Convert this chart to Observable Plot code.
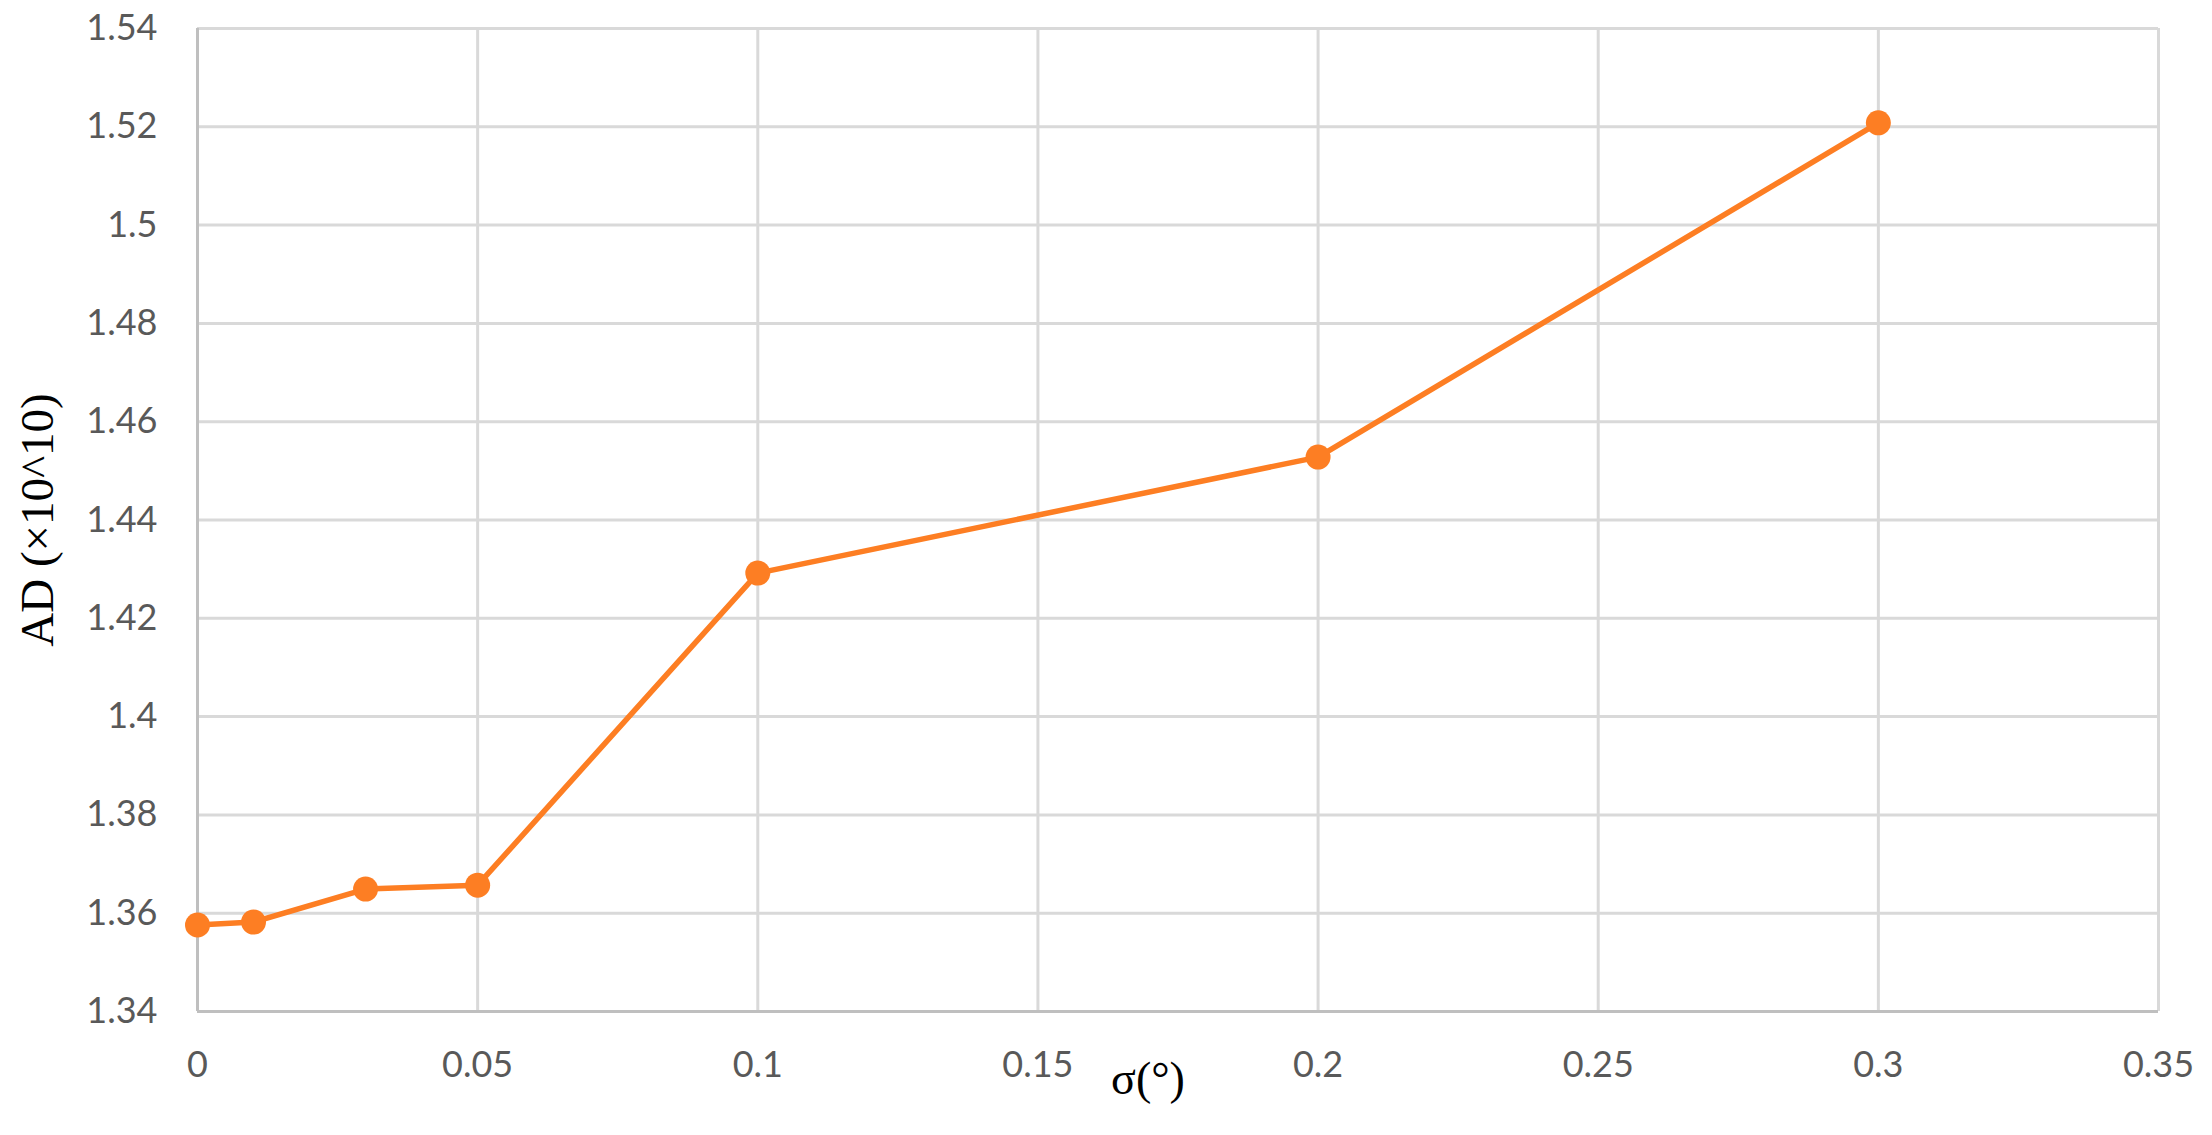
<!DOCTYPE html>
<html>
<head>
<meta charset="utf-8">
<script src="https://cdn.jsdelivr.net/npm/d3@7"></script>
<script src="https://cdn.jsdelivr.net/npm/@observablehq/plot@0.6"></script>
<style>
  html, body { margin: 0; padding: 0; background: #fff; }
  #chart svg { display: block; }
  g[aria-label="y-axis label"] text {
    font-family: "Liberation Serif", "DejaVu Serif", serif; fill: #000; font-size: 47px;
  }
</style>
</head>
<body>
<div id="chart"></div>
<script>
const sigma = [0, 0.01, 0.03, 0.05, 0.1, 0.2, 0.3];
const ad = [1.3576, 1.3582, 1.3649, 1.3657, 1.4292, 1.4528, 1.5208];
const xTicks = [0, 0.05, 0.1, 0.15, 0.2, 0.25, 0.3, 0.35];
const yTicks = [1.34, 1.36, 1.38, 1.40, 1.42, 1.44, 1.46, 1.48, 1.50, 1.52, 1.54];
const xTitle = "σ(°)";
const yTitle = "AD (×10^10)";

const data = sigma.map((s, i) => ({sigma: s, ad: ad[i]}));
const fmt = d => String(+d.toFixed(2));
const orange = "#fd7e23";

const chart = Plot.plot({
  width: 2212,
  height: 1135,
  marginLeft: 197,
  marginRight: 54,
  marginTop: 28,
  marginBottom: 124,
  style: {background: "#fff", fontFamily: "Lato, 'Open Sans', sans-serif"},
  x: {domain: [0, 0.35]},
  y: {domain: [1.34, 1.54]},
  marks: [
    Plot.gridX(xTicks, {stroke: "#d9d9d9", strokeOpacity: 1, strokeWidth: 3}),
    Plot.gridY(yTicks, {stroke: "#d9d9d9", strokeOpacity: 1, strokeWidth: 3}),
    Plot.ruleX([0], {stroke: "#bfbfbf", strokeWidth: 3}),
    Plot.ruleY([1.34], {stroke: "#bfbfbf", strokeWidth: 3}),
    Plot.axisX(xTicks, {tickSize: 0, tickPadding: 40, tickFormat: fmt, fontSize: 36, color: "#595959", label: null}),
    Plot.axisY(yTicks, {tickSize: 0, tickPadding: 40, tickFormat: fmt, fontSize: 36, color: "#595959",
      label: yTitle, labelArrow: "none", labelAnchor: "center", labelOffset: 178}),
    Plot.text([xTitle], {frameAnchor: "bottom", text: d => d, dx: -30, dy: 82, fontSize: 46,
      fontFamily: "Liberation Serif, DejaVu Serif, serif", fill: "#000"}),
    Plot.line(data, {x: "sigma", y: "ad", stroke: orange, strokeWidth: 5.5}),
    Plot.dot(data, {x: "sigma", y: "ad", r: 12.5, fill: orange, stroke: "none"})
  ]
});
document.getElementById("chart").appendChild(chart);
</script>
</body>
</html>
